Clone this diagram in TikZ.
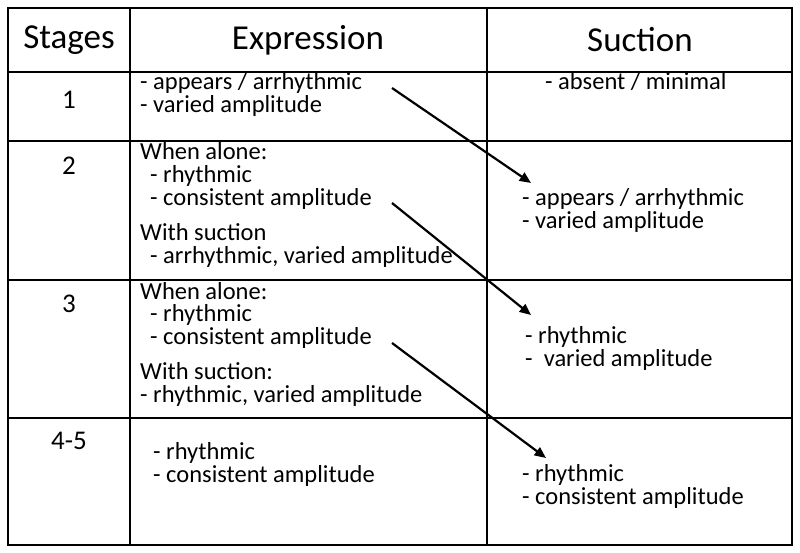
\documentclass[tikz,border=0pt]{standalone}
\usepackage{fontspec}
\setmainfont{Carlito}
\usetikzlibrary{arrows.meta, positioning, calc}

\begin{document}
\begin{tikzpicture}[
  x=1pt, y=-1pt,
  grid/.style = {line width=1.6pt},
  head/.style = {font=\fontsize{35}{37}\selectfont, anchor=center},
  cell/.style = {font=\fontsize{24.5}{26}\selectfont, anchor=west, inner sep=0pt, text height=1.4ex, text depth=0.3ex},
  stage/.style = {font=\fontsize{27}{29}\selectfont, anchor=center},
  arrow/.style = {line width=2.2pt, -{Triangle[length=4mm, width=3.4mm]}}
]
  \useasboundingbox (0,0) rectangle (800,553);

  % Table frame
  \draw[grid] (8,8) rectangle (792,545);
  \foreach \x in {130,487} \draw[grid] (\x,8) -- (\x,545);
  \foreach \y in {72,141,280,418} \draw[grid] (8,\y) -- (792,\y);

  % Header
  \node[head] (hstage) at (69,40) {Stages};
  \node[head] (hexpr) at (308,40) {Expression};
  \node[head] (hsuct) at (640,40) {Suction};

  % Stage numbers
  \node[stage] (s1) at (69,100) {1};
  \node[stage] (s2) at (69,166) {2};
  \node[stage] (s3) at (69,304) {3};
  \node[stage] (s4) at (69,441) {4-5};

  % Expression column
  \node[cell] (e1a) at (140,87) {- appears / arrhythmic};
  \node[cell] (e1b) at (140,110) {- varied amplitude};
  \node[cell] (e2a) at (140,157) {When alone:};
  \node[cell] (e2b) at (150,180) {- rhythmic};
  \node[cell] (e2c) at (150,203) {- consistent amplitude};
  \node[cell] (e2d) at (140,238) {With suction};
  \node[cell] (e2e) at (150,261) {- arrhythmic, varied amplitude};
  \node[cell] (e3a) at (140,297) {When alone:};
  \node[cell] (e3b) at (150,319) {- rhythmic};
  \node[cell] (e3c) at (150,342) {- consistent amplitude};
  \node[cell] (e3d) at (140,377) {With suction:};
  \node[cell] (e3e) at (140,400) {- rhythmic, varied amplitude};
  \node[cell] (e4a) at (153,457) {- rhythmic};
  \node[cell] (e4b) at (153,480) {- consistent amplitude};

  % Suction column
  \node[cell] (u1a) at (545,87) {- absent / minimal};
  \node[cell] (u2a) at (522,203) {- appears / arrhythmic};
  \node[cell] (u2b) at (522,226) {- varied amplitude};
  \node[cell] (u3a) at (525,341) {- rhythmic};
  \node[cell] (u3b) at (525,364) {- \ varied amplitude};
  \node[cell] (u4a) at (522,479) {- rhythmic};
  \node[cell] (u4b) at (522,502) {- consistent amplitude};

  % Transitions
  \coordinate (t1s) at (392,88);  \coordinate (t1e) at (531,183);
  \coordinate (t2s) at (392,203); \coordinate (t2e) at (531,315);
  \coordinate (t3s) at (392,343); \coordinate (t3e) at (546,458);
  \draw[arrow] (t1s) -- (t1e);
  \draw[arrow] (t2s) -- (t2e);
  \draw[arrow] (t3s) -- (t3e);
\end{tikzpicture}
\end{document}
